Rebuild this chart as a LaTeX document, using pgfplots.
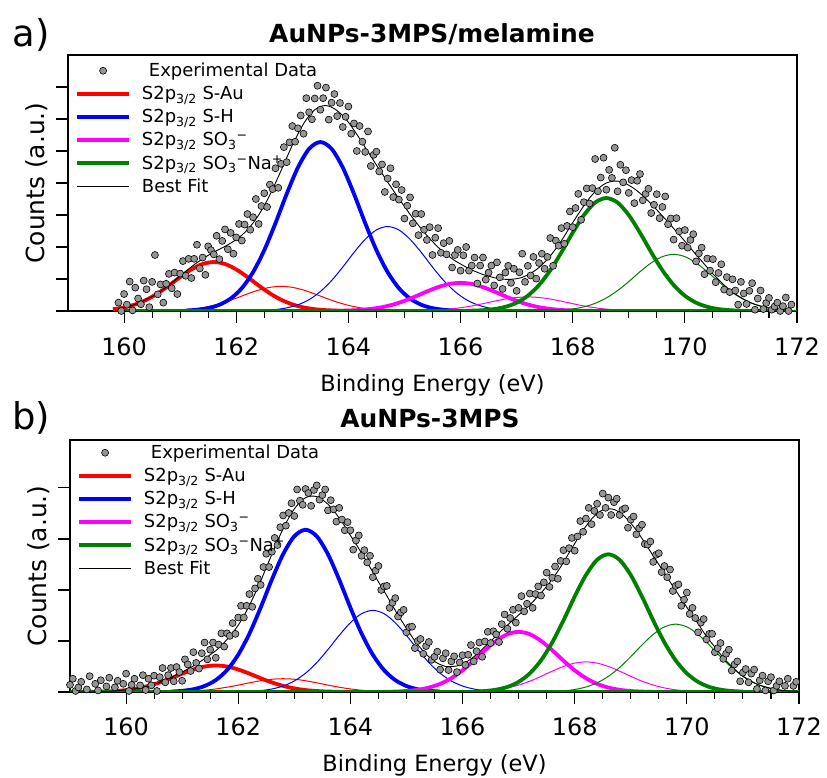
\documentclass[border=0pt]{standalone}
\usepackage{fontspec}
\setmainfont{DejaVu Sans}
\usepackage{pgfplots}
\pgfplotsset{compat=1.18}

\definecolor{cRed}{RGB}{255,0,0}
\definecolor{cBlue}{RGB}{0,0,255}
\definecolor{cMag}{RGB}{255,0,255}
\definecolor{cGreen}{RGB}{0,128,0}

\pgfplotsset{
  xps/.style={
    scale only axis, width=729bp,
    xmin=159, xmax=172, ymin=0,
    xtick={160,162,...,172}, minor x tick num=3,
    tick align=outside, xtick pos=lower, ytick pos=left,
    major tick length=12bp, minor tick length=7bp,
    yticklabels={},
    axis line style={line width=1.1bp},
    tick style={black, line width=1.1bp},
    tick label style={font=\fontsize{24}{28}\selectfont},
    /pgf/number format/assume math mode=true,
    xlabel={Binding Energy (eV)},
    ylabel={Counts (a.u.)},
    xlabel style={font=\fontsize{22.5}{26}\selectfont},
    ylabel style={font=\fontsize{25}{29}\selectfont,
      at={(axis description cs:-0.0435,0.5)}, anchor=center},
    legend cell align=left,
    legend style={at={(axis description cs:0,1)}, anchor=north west,
      draw=none, fill=none, font=\fontsize{18}{21}\selectfont,
      row sep=4.2bp, inner xsep=7bp, inner ysep=3bp},
    legend image code/.code={\draw[mark repeat=2,mark phase=2,##1]
      plot coordinates {(0bp,0bp) (26bp,0bp) (52bp,0bp)};
      \path (61bp,0bp);},
  },
  expdata/.style={only marks, mark=*, mark size=3.5bp,
    mark options={fill=black!42, draw=black, line width=0.6bp}},
  thickcomp/.style={line width=3.8bp, smooth},
  thincomp/.style={line width=1bp, smooth, forget plot},
  bestfit/.style={black, line width=0.9bp, smooth},
}

\begin{document}
\begin{tikzpicture}
\useasboundingbox (0,0) rectangle (827bp,778bp);

\node[font=\bfseries\fontsize{25}{29}\selectfont, anchor=base] at (432bp,735bp) {AuNPs-3MPS/melamine};
\node[font=\fontsize{37}{43}\selectfont, anchor=base west] at (9bp,731bp) {a)};
\node[font=\bfseries\fontsize{25}{29}\selectfont, anchor=base] at (430bp,350bp) {AuNPs-3MPS};
\node[font=\fontsize{37}{43}\selectfont, anchor=base west] at (9bp,348bp) {b)};

% ---------------- panel a ----------------
\begin{axis}[xps, at={(68bp,467bp)}, anchor=south west, height=256bp,
  ymax=8, ytick={0,...,7},
  legend style={yshift=-3bp},
  xticklabel style={yshift=-11bp},
  xlabel style={at={(axis description cs:0.5,0)}, anchor=center, yshift=-74bp}]

\addplot[expdata] coordinates {
(159.90,0.26)(159.95,0.00)(160.00,0.53)(160.05,0.20)(160.10,0.92)(160.15,0.02)(160.20,0.73)(160.25,0.39)(160.30,0.21)(160.35,0.95)
(160.40,0.68)(160.45,0.12)(160.50,0.91)(160.55,1.75)(160.60,0.52)(160.65,0.83)(160.70,0.26)(160.75,0.85)(160.80,1.16)(160.85,0.71)
(160.90,1.20)(160.95,0.53)(161.00,1.17)(161.05,1.56)(161.10,1.10)(161.15,1.63)(161.20,1.03)(161.25,1.63)(161.30,2.07)(161.35,1.33)
(161.40,1.67)(161.45,1.13)(161.50,2.02)(161.55,1.90)(161.60,1.77)(161.65,2.35)(161.70,1.62)(161.75,2.19)(161.80,2.55)(161.85,1.93)
(161.90,2.44)(161.95,1.79)(162.00,2.30)(162.05,2.72)(162.10,2.20)(162.15,2.70)(162.20,3.03)(162.25,2.54)(162.30,2.93)(162.35,3.50)
(162.40,2.72)(162.45,3.28)(162.50,3.68)(162.55,3.25)(162.60,3.95)(162.65,3.81)(162.70,4.46)(162.75,3.85)(162.80,4.60)(162.85,5.12)
(162.90,4.65)(162.95,5.27)(163.00,5.78)(163.05,5.29)(163.10,5.71)(163.15,6.11)(163.20,5.54)(163.25,6.65)(163.30,6.21)(163.35,5.99)
(163.40,6.64)(163.45,7.04)(163.50,6.29)(163.55,6.65)(163.60,6.98)(163.65,5.98)(163.70,6.51)(163.75,6.78)(163.80,6.09)(163.85,6.50)
(163.90,5.75)(163.95,6.07)(164.00,6.39)(164.05,5.54)(164.10,5.86)(164.15,5.00)(164.20,5.78)(164.25,5.29)(164.30,4.97)(164.35,5.61)
(164.40,4.53)(164.45,4.88)(164.50,4.98)(164.55,4.36)(164.60,4.58)(164.65,3.72)(164.70,4.14)(164.75,4.46)(164.80,3.56)(164.85,3.96)
(164.90,3.48)(164.95,3.78)(165.00,2.89)(165.05,3.29)(165.10,3.55)(165.15,2.74)(165.20,3.04)(165.25,2.37)(165.30,3.03)(165.35,2.54)
(165.40,2.22)(165.45,2.62)(165.50,1.75)(165.55,2.29)(165.60,2.59)(165.65,1.82)(165.70,2.12)(165.75,1.77)(165.80,2.19)(165.85,1.36)
(165.90,1.75)(165.95,1.91)(166.00,1.26)(166.05,1.74)(166.10,2.00)(166.15,1.26)(166.20,1.42)(166.25,1.67)(166.30,0.86)(166.35,1.42)
(166.40,1.67)(166.45,0.98)(166.50,1.20)(166.55,1.42)(166.60,0.80)(166.65,1.52)(166.70,1.05)(166.75,0.69)(166.80,1.20)(166.85,1.41)
(166.90,0.88)(166.95,1.32)(167.00,0.63)(167.05,1.21)(167.10,1.79)(167.15,0.91)(167.20,1.41)(167.25,1.11)(167.30,1.69)(167.35,1.01)
(167.40,1.50)(167.45,1.79)(167.50,1.32)(167.55,1.69)(167.60,2.28)(167.65,1.41)(167.70,2.20)(167.75,2.04)(167.80,2.59)(167.85,2.10)
(167.90,2.66)(167.95,3.11)(168.00,2.62)(168.05,3.22)(168.10,3.66)(168.15,2.85)(168.20,3.40)(168.25,3.83)(168.30,3.36)(168.35,3.84)
(168.40,4.75)(168.45,3.74)(168.50,4.17)(168.55,4.79)(168.60,3.79)(168.65,4.41)(168.70,4.16)(168.75,5.10)(168.80,3.74)(168.85,4.57)
(168.90,4.02)(168.95,4.40)(169.00,3.69)(169.05,4.09)(169.10,3.37)(169.15,4.07)(169.20,4.28)(169.25,3.46)(169.30,3.66)(169.35,3.82)
(169.40,3.06)(169.45,3.32)(169.50,3.65)(169.55,2.90)(169.60,3.25)(169.65,3.58)(169.70,2.71)(169.75,2.89)(169.80,2.23)(169.85,2.90)
(169.90,2.49)(169.95,2.04)(170.00,2.53)(170.05,1.98)(170.10,2.22)(170.15,2.40)(170.20,1.55)(170.25,1.80)(170.30,1.98)(170.35,1.15)
(170.40,1.64)(170.45,1.26)(170.50,1.62)(170.55,0.90)(170.60,1.19)(170.65,1.46)(170.70,0.67)(170.75,1.06)(170.80,0.59)(170.85,0.99)
(170.90,0.64)(170.95,0.20)(171.00,0.91)(171.05,0.55)(171.10,0.22)(171.15,0.63)(171.20,0.87)(171.25,0.04)(171.30,0.39)(171.35,0.64)
(171.40,0.06)(171.45,0.25)(171.50,0.41)(171.55,0.04)(171.60,0.14)(171.65,0.26)(171.70,0.00)(171.75,0.15)(171.80,0.42)(171.85,0.00)(171.90,0.20)
};
\addlegendentry{\hspace*{7bp}Experimental Data}

\addplot[cRed, thickcomp] coordinates {
(159.8,0.056)(160.0,0.112)(160.2,0.207)(160.4,0.352)(160.6,0.551)(160.8,0.796)(161.0,1.060)(161.2,1.299)(161.4,1.469)(161.6,1.53)
(161.8,1.469)(162.0,1.299)(162.2,1.060)(162.4,0.796)(162.6,0.551)(162.8,0.352)(163.0,0.207)(163.2,0.112)(163.4,0.056)(163.6,0.026)(163.8,0.011)(164.0,0.004)
};
\addlegendentry{S2p\textsubscript{3/2} S-Au}
\addplot[cRed, thincomp] coordinates {
(160.4,0.002)(160.6,0.006)(160.8,0.013)(161.0,0.028)(161.2,0.057)(161.4,0.104)(161.6,0.177)(161.8,0.277)(162.0,0.400)(162.2,0.534)(162.4,0.654)(162.6,0.739)(162.8,0.77)
(163.0,0.739)(163.2,0.654)(163.4,0.534)(163.6,0.400)(163.8,0.277)(164.0,0.177)(164.2,0.104)(164.4,0.057)(164.6,0.028)(164.8,0.013)(165.0,0.006)(165.2,0.002)
};

\addplot[cBlue, thickcomp] coordinates {
(161.1,0.015)(161.3,0.038)(161.5,0.089)(161.7,0.194)(161.9,0.388)(162.1,0.713)(162.3,1.214)(162.5,1.901)(162.7,2.746)(162.9,3.659)(163.1,4.483)(163.3,5.069)(163.5,5.28)
(163.7,5.069)(163.9,4.483)(164.1,3.659)(164.3,2.746)(164.5,1.901)(164.7,1.214)(164.9,0.713)(165.1,0.388)(165.3,0.194)(165.5,0.089)(165.7,0.038)(165.9,0.015)
};
\addlegendentry{S2p\textsubscript{3/2} S-H}
\addplot[cBlue, thincomp] coordinates {
(162.3,0.007)(162.5,0.019)(162.7,0.045)(162.9,0.097)(163.1,0.194)(163.3,0.356)(163.5,0.607)(163.7,0.950)(163.9,1.373)(164.1,1.830)(164.3,2.241)(164.5,2.534)(164.7,2.64)
(164.9,2.534)(165.1,2.241)(165.3,1.830)(165.5,1.373)(165.7,0.950)(165.9,0.607)(166.1,0.356)(166.3,0.194)(166.5,0.097)(166.7,0.045)(166.9,0.019)(167.1,0.007)
};

\addplot[cMag, thickcomp] coordinates {
(163.6,0.002)(163.8,0.006)(164.0,0.015)(164.2,0.032)(164.4,0.065)(164.6,0.119)(164.8,0.202)(165.0,0.317)(165.2,0.458)(165.4,0.610)(165.6,0.747)(165.8,0.845)(166.0,0.88)
(166.2,0.845)(166.4,0.747)(166.6,0.610)(166.8,0.458)(167.0,0.317)(167.2,0.202)(167.4,0.119)(167.6,0.065)(167.8,0.032)(168.0,0.015)(168.2,0.006)(168.4,0.002)
};
\addlegendentry{S2p\textsubscript{3/2} SO\textsubscript{3}\textsuperscript{−}}
\addplot[cMag, thincomp] coordinates {
(164.8,0.001)(165.0,0.003)(165.2,0.007)(165.4,0.016)(165.6,0.032)(165.8,0.059)(166.0,0.101)(166.2,0.158)(166.4,0.229)(166.6,0.305)(166.8,0.374)(167.0,0.422)(167.2,0.44)
(167.4,0.422)(167.6,0.374)(167.8,0.305)(168.0,0.229)(168.2,0.158)(168.4,0.101)(168.6,0.059)(168.8,0.032)(169.0,0.016)(169.2,0.007)(169.4,0.003)(169.6,0.001)
};

\addplot[cGreen, line width=3.8bp, forget plot] coordinates {(159.9,0) (171.9,0)};
\addplot[cGreen, thickcomp] coordinates {
(166.2,0.010)(166.4,0.025)(166.6,0.060)(166.8,0.130)(167.0,0.259)(167.2,0.477)(167.4,0.812)(167.6,1.271)(167.8,1.836)(168.0,2.446)(168.2,2.997)(168.4,3.389)(168.6,3.53)
(168.8,3.389)(169.0,2.997)(169.2,2.446)(169.4,1.836)(169.6,1.271)(169.8,0.812)(170.0,0.477)(170.2,0.259)(170.4,0.130)(170.6,0.060)(170.8,0.025)(171.0,0.010)
};
\addlegendentry{S2p\textsubscript{3/2} SO\textsubscript{3}\textsuperscript{−}Na\textsuperscript{+}}
\addplot[cGreen, thincomp] coordinates {
(167.4,0.005)(167.6,0.013)(167.8,0.030)(168.0,0.065)(168.2,0.130)(168.4,0.239)(168.6,0.407)(168.8,0.637)(169.0,0.920)(169.2,1.227)(169.4,1.503)(169.6,1.699)(169.8,1.77)
(170.0,1.699)(170.2,1.503)(170.4,1.227)(170.6,0.920)(170.8,0.637)(171.0,0.407)(171.2,0.239)(171.4,0.130)(171.6,0.065)(171.8,0.030)(172.0,0.013)
};

\addplot[bestfit] coordinates {
(159.9,0.08)(160.0,0.11)(160.1,0.15)(160.2,0.21)(160.3,0.28)(160.4,0.36)(160.5,0.45)(160.6,0.56)(160.7,0.68)(160.8,0.81)(160.9,0.95)
(161.0,1.10)(161.1,1.24)(161.2,1.38)(161.3,1.51)(161.4,1.63)(161.5,1.74)(161.6,1.84)(161.7,1.93)(161.8,2.02)(161.9,2.12)
(162.0,2.23)(162.1,2.37)(162.2,2.54)(162.3,2.75)(162.4,3.00)(162.5,3.29)(162.6,3.63)(162.7,4.00)(162.8,4.39)(162.9,4.79)
(163.0,5.18)(163.1,5.53)(163.2,5.85)(163.3,6.10)(163.4,6.29)(163.5,6.39)(163.6,6.42)(163.7,6.37)(163.8,6.26)(163.9,6.10)
(164.0,5.90)(164.1,5.65)(164.2,5.39)(164.3,5.11)(164.4,4.84)(164.5,4.56)(164.6,4.30)(164.7,4.03)(164.8,3.77)(164.9,3.51)
(165.0,3.27)(165.1,3.02)(165.2,2.79)(165.3,2.57)(165.4,2.36)(165.5,2.17)(165.6,1.99)(165.7,1.84)(165.8,1.70)(165.9,1.57)
(166.0,1.47)(166.1,1.37)(166.2,1.28)(166.3,1.21)(166.4,1.14)(166.5,1.09)(166.6,1.04)(166.7,1.01)(166.8,0.99)(166.9,0.99)
(167.0,1.01)(167.1,1.05)(167.2,1.13)(167.3,1.23)(167.4,1.36)(167.5,1.53)(167.6,1.72)(167.7,1.95)(167.8,2.20)(167.9,2.48)
(168.0,2.76)(168.1,3.03)(168.2,3.29)(168.3,3.53)(168.4,3.73)(168.5,3.89)(168.6,4.00)(168.7,4.05)(168.8,4.06)(168.9,4.02)
(169.0,3.93)(169.1,3.82)(169.2,3.68)(169.3,3.52)(169.4,3.34)(169.5,3.16)(169.6,2.97)(169.7,2.78)(169.8,2.58)(169.9,2.38)
(170.0,2.18)(170.1,1.97)(170.2,1.76)(170.3,1.56)(170.4,1.36)(170.5,1.16)(170.6,0.98)(170.7,0.81)(170.8,0.66)(170.9,0.53)
(171.0,0.42)(171.1,0.32)(171.2,0.24)(171.3,0.18)(171.4,0.13)(171.5,0.09)(171.6,0.07)(171.7,0.04)(171.8,0.03)(171.9,0.02)
};
\addlegendentry{Best Fit}
\end{axis}

% ---------------- panel b ----------------
\begin{axis}[xps, at={(70bp,86bp)}, anchor=south west, height=252bp,
  ymax=4.94, ytick={0,...,4},
  xticklabel style={yshift=-10bp},
  xlabel style={at={(axis description cs:0.5,0)}, anchor=center, yshift=-73bp}]

\addplot[expdata] coordinates {
(159.00,0.14)(159.05,0.26)(159.10,0.02)(159.15,0.09)(159.20,0.20)(159.25,-0.05)(159.30,0.05)(159.35,0.31)(159.40,-0.03)(159.45,0.16)
(159.50,0.03)(159.55,0.23)(159.60,-0.05)(159.65,0.11)(159.70,0.28)(159.75,-0.03)(159.80,0.09)(159.85,0.22)(159.90,-0.05)(159.95,0.16)
(160.00,0.36)(160.05,0.02)(160.10,0.14)(160.15,0.26)(160.20,-0.05)(160.25,0.13)(160.30,0.33)(160.35,0.04)(160.40,0.26)(160.45,0.13)
(160.50,0.32)(160.55,0.02)(160.60,0.29)(160.65,0.47)(160.70,0.19)(160.75,0.33)(160.80,0.47)(160.85,0.21)(160.90,0.49)(160.95,0.39)
(161.00,0.22)(161.05,0.64)(161.10,0.54)(161.15,0.41)(161.20,0.78)(161.25,0.57)(161.30,0.46)(161.35,0.76)(161.40,0.97)(161.45,0.64)
(161.50,0.83)(161.55,0.97)(161.60,0.67)(161.65,0.93)(161.70,1.15)(161.75,0.89)(161.80,1.15)(161.85,1.10)(161.90,1.35)(161.95,1.14)
(162.00,1.46)(162.05,1.69)(162.10,1.46)(162.15,1.69)(162.20,1.92)(162.25,1.67)(162.30,2.03)(162.35,2.22)(162.40,2.10)(162.45,2.45)
(162.50,2.71)(162.55,2.45)(162.60,2.75)(162.65,3.02)(162.70,2.88)(162.75,3.23)(162.80,3.46)(162.85,3.26)(162.90,3.51)(162.95,3.70)
(163.00,3.45)(163.05,3.97)(163.10,3.75)(163.15,3.67)(163.20,3.98)(163.25,3.90)(163.30,3.65)(163.35,3.96)(163.40,4.05)(163.45,3.77)
(163.50,3.86)(163.55,3.97)(163.60,3.56)(163.65,3.76)(163.70,3.58)(163.75,3.34)(163.80,3.61)(163.85,3.38)(163.90,3.17)(163.95,3.33)
(164.00,3.17)(164.05,2.79)(164.10,2.97)(164.15,3.07)(164.20,2.67)(164.25,2.78)(164.30,2.54)(164.35,2.67)(164.40,2.25)(164.45,2.38)
(164.50,2.47)(164.55,2.00)(164.60,2.07)(164.65,2.08)(164.70,1.65)(164.75,1.75)(164.80,1.84)(164.85,1.48)(164.90,1.56)(164.95,1.61)
(165.00,1.17)(165.05,1.27)(165.10,1.28)(165.15,0.86)(165.20,1.00)(165.25,1.04)(165.30,0.75)(165.35,0.90)(165.40,0.98)(165.45,0.63)
(165.50,0.69)(165.55,0.79)(165.60,0.44)(165.65,0.66)(165.70,0.76)(165.75,0.43)(165.80,0.60)(165.85,0.70)(165.90,0.39)(165.95,0.58)
(166.00,0.72)(166.05,0.53)(166.10,0.73)(166.15,0.92)(166.20,0.60)(166.25,0.80)(166.30,0.97)(166.35,0.69)(166.40,0.99)(166.45,1.18)
(166.50,0.96)(166.55,1.19)(166.60,1.13)(166.65,0.98)(166.70,1.33)(166.75,1.52)(166.80,1.24)(166.85,1.45)(166.90,1.61)(166.95,1.36)
(167.00,1.65)(167.05,1.88)(167.10,1.58)(167.15,1.73)(167.20,1.93)(167.25,1.65)(167.30,1.92)(167.35,2.07)(167.40,1.89)(167.45,2.15)
(167.50,2.34)(167.55,2.06)(167.60,2.24)(167.65,2.46)(167.70,2.22)(167.75,2.57)(167.80,2.78)(167.85,2.56)(167.90,2.82)(167.95,3.02)
(168.00,2.77)(168.05,3.05)(168.10,3.35)(168.15,3.14)(168.20,3.40)(168.25,3.61)(168.30,3.29)(168.35,3.55)(168.40,3.69)(168.45,3.47)
(168.50,3.89)(168.55,3.61)(168.60,3.81)(168.65,3.47)(168.70,3.72)(168.75,3.79)(168.80,3.47)(168.85,3.57)(168.90,3.60)(168.95,3.22)
(169.00,3.38)(169.05,3.44)(169.10,3.09)(169.15,3.21)(169.20,3.28)(169.25,2.90)(169.30,2.89)(169.35,2.95)(169.40,2.55)(169.45,2.69)
(169.50,2.72)(169.55,2.35)(169.60,2.47)(169.65,2.25)(169.70,2.40)(169.75,1.98)(169.80,2.08)(169.85,2.11)(169.90,1.69)(169.95,1.81)
(170.00,1.95)(170.05,1.53)(170.10,1.65)(170.15,1.45)(170.20,1.17)(170.25,1.36)(170.30,1.43)(170.35,1.03)(170.40,1.14)(170.45,1.14)
(170.50,0.78)(170.55,0.86)(170.60,0.96)(170.65,0.65)(170.70,0.75)(170.75,0.83)(170.80,0.42)(170.85,0.54)(170.90,0.60)(170.95,0.21)
(171.00,0.38)(171.05,0.45)(171.10,0.19)(171.15,0.36)(171.20,0.44)(171.25,0.06)(171.30,0.23)(171.35,0.32)(171.40,0.03)(171.45,0.21)
(171.50,0.29)(171.55,0.03)(171.60,0.12)(171.65,0.21)(171.70,-0.05)(171.75,0.12)(171.80,0.26)(171.85,-0.03)(171.90,0.12)(171.95,0.20)(172.00,-0.06)
};
\addlegendentry{\hspace*{7bp}Experimental Data}

\addplot[cRed, thickcomp] coordinates {
(159.2,0.001)(159.4,0.004)(159.6,0.009)(159.8,0.019)(160.0,0.038)(160.2,0.070)(160.4,0.120)(160.6,0.187)(160.8,0.270)(161.0,0.360)(161.2,0.441)(161.4,0.499)(161.6,0.52)
(161.8,0.499)(162.0,0.441)(162.2,0.360)(162.4,0.270)(162.6,0.187)(162.8,0.120)(163.0,0.070)(163.2,0.038)(163.4,0.019)(163.6,0.009)(163.8,0.004)(164.0,0.001)
};
\addlegendentry{S2p\textsubscript{3/2} S-Au}
\addplot[cRed, thincomp] coordinates {
(160.4,0.001)(160.6,0.002)(160.8,0.004)(161.0,0.010)(161.2,0.019)(161.4,0.035)(161.6,0.060)(161.8,0.094)(162.0,0.135)(162.2,0.180)(162.4,0.221)(162.6,0.250)(162.8,0.26)
(163.0,0.250)(163.2,0.221)(163.4,0.180)(163.6,0.135)(163.8,0.094)(164.0,0.060)(164.2,0.035)(164.4,0.019)(164.6,0.010)(164.8,0.004)(165.0,0.002)(165.2,0.001)
};

\addplot[cBlue, thickcomp] coordinates {
(160.8,0.009)(161.0,0.023)(161.2,0.054)(161.4,0.117)(161.6,0.233)(161.8,0.429)(162.0,0.731)(162.2,1.145)(162.4,1.654)(162.6,2.204)(162.8,2.700)(163.0,3.053)(163.2,3.18)
(163.4,3.053)(163.6,2.700)(163.8,2.204)(164.0,1.654)(164.2,1.145)(164.4,0.731)(164.6,0.429)(164.8,0.233)(165.0,0.117)(165.2,0.054)(165.4,0.023)(165.6,0.009)
};
\addlegendentry{S2p\textsubscript{3/2} S-H}
\addplot[cBlue, thincomp] coordinates {
(162.0,0.004)(162.2,0.012)(162.4,0.027)(162.6,0.059)(162.8,0.117)(163.0,0.216)(163.2,0.368)(163.4,0.576)(163.6,0.832)(163.8,1.109)(164.0,1.358)(164.2,1.536)(164.4,1.60)
(164.6,1.536)(164.8,1.358)(165.0,1.109)(165.2,0.832)(165.4,0.576)(165.6,0.368)(165.8,0.216)(166.0,0.117)(166.2,0.059)(166.4,0.027)(166.6,0.012)(166.8,0.004)
};

\addplot[cMag, thickcomp] coordinates {
(164.6,0.003)(164.8,0.008)(165.0,0.020)(165.2,0.043)(165.4,0.087)(165.6,0.159)(165.8,0.271)(166.0,0.425)(166.2,0.614)(166.4,0.818)(166.6,1.002)(166.8,1.133)(167.0,1.18)
(167.2,1.133)(167.4,1.002)(167.6,0.818)(167.8,0.614)(168.0,0.425)(168.2,0.271)(168.4,0.159)(168.6,0.087)(168.8,0.043)(169.0,0.020)(169.2,0.008)(169.4,0.003)
};
\addlegendentry{S2p\textsubscript{3/2} SO\textsubscript{3}\textsuperscript{−}}
\addplot[cMag, thincomp] coordinates {
(165.8,0.002)(166.0,0.004)(166.2,0.010)(166.4,0.022)(166.6,0.043)(166.8,0.080)(167.0,0.136)(167.2,0.212)(167.4,0.307)(167.6,0.409)(167.8,0.501)(168.0,0.566)(168.2,0.59)
(168.4,0.566)(168.6,0.501)(168.8,0.409)(169.0,0.307)(169.2,0.212)(169.4,0.136)(169.6,0.080)(169.8,0.043)(170.0,0.022)(170.2,0.010)(170.4,0.004)(170.6,0.002)
};

\addplot[cGreen, line width=3.8bp, forget plot] coordinates {(159.0,0) (172.0,0)};
\addplot[cGreen, thickcomp] coordinates {
(166.2,0.008)(166.4,0.019)(166.6,0.046)(166.8,0.099)(167.0,0.198)(167.2,0.365)(167.4,0.621)(167.6,0.972)(167.8,1.404)(168.0,1.871)(168.2,2.292)(168.4,2.592)(168.6,2.70)
(168.8,2.592)(169.0,2.292)(169.2,1.871)(169.4,1.404)(169.6,0.972)(169.8,0.621)(170.0,0.365)(170.2,0.198)(170.4,0.099)(170.6,0.046)(170.8,0.019)(171.0,0.008)
};
\addlegendentry{S2p\textsubscript{3/2} SO\textsubscript{3}\textsuperscript{−}Na\textsuperscript{+}}
\addplot[cGreen, thincomp] coordinates {
(167.4,0.004)(167.6,0.010)(167.8,0.022)(168.0,0.049)(168.2,0.098)(168.4,0.180)(168.6,0.306)(168.8,0.479)(169.0,0.692)(169.2,0.922)(169.4,1.129)(169.6,1.277)(169.8,1.33)
(170.0,1.277)(170.2,1.129)(170.4,0.922)(170.6,0.692)(170.8,0.479)(171.0,0.306)(171.2,0.180)(171.4,0.098)(171.6,0.049)(171.8,0.022)(172.0,0.010)
};

\addplot[bestfit] coordinates {
(159.0,0.00)(159.2,0.00)(159.4,0.00)(159.5,0.01)(159.6,0.01)(159.7,0.01)(159.8,0.02)(159.9,0.03)
(160.0,0.04)(160.1,0.05)(160.2,0.07)(160.3,0.09)(160.4,0.12)(160.5,0.15)(160.6,0.19)(160.7,0.24)(160.8,0.28)(160.9,0.34)
(161.0,0.39)(161.1,0.45)(161.2,0.51)(161.3,0.58)(161.4,0.65)(161.5,0.73)(161.6,0.81)(161.7,0.91)(161.8,1.03)(161.9,1.16)
(162.0,1.31)(162.1,1.49)(162.2,1.70)(162.3,1.93)(162.4,2.17)(162.5,2.44)(162.6,2.70)(162.7,2.96)(162.8,3.20)(162.9,3.41)
(163.0,3.59)(163.1,3.72)(163.2,3.81)(163.3,3.84)(163.4,3.83)(163.5,3.77)(163.6,3.68)(163.7,3.56)(163.8,3.41)(163.9,3.25)
(164.0,3.07)(164.1,2.90)(164.2,2.72)(164.3,2.54)(164.4,2.35)(164.5,2.16)(164.6,1.98)(164.7,1.79)(164.8,1.60)(164.9,1.42)
(165.0,1.25)(165.1,1.08)(165.2,0.93)(165.3,0.80)(165.4,0.69)(165.5,0.60)(165.6,0.54)(165.7,0.50)(165.8,0.50)(165.9,0.51)
(166.0,0.55)(166.1,0.61)(166.2,0.69)(166.3,0.78)(166.4,0.89)(166.5,0.99)(166.6,1.10)(166.7,1.21)(166.8,1.31)(166.9,1.41)
(167.0,1.51)(167.1,1.61)(167.2,1.71)(167.3,1.82)(167.4,1.94)(167.5,2.07)(167.6,2.21)(167.7,2.37)(167.8,2.54)(167.9,2.73)
(168.0,2.91)(168.1,3.09)(168.2,3.25)(168.3,3.39)(168.4,3.50)(168.5,3.57)(168.6,3.59)(168.7,3.58)(168.8,3.52)(168.9,3.43)
(169.0,3.31)(169.1,3.17)(169.2,3.01)(169.3,2.84)(169.4,2.67)(169.5,2.50)(169.6,2.33)(169.7,2.16)(169.8,1.99)(169.9,1.83)
(170.0,1.66)(170.1,1.50)(170.2,1.34)(170.3,1.17)(170.4,1.02)(170.5,0.88)(170.6,0.74)(170.7,0.61)(170.8,0.50)(170.9,0.40)
(171.0,0.31)(171.1,0.24)(171.2,0.18)(171.3,0.13)(171.4,0.10)(171.5,0.07)(171.6,0.05)(171.7,0.03)(171.8,0.02)(171.9,0.02)(172.0,0.01)
};
\addlegendentry{Best Fit}
\end{axis}
\end{tikzpicture}
\end{document}
